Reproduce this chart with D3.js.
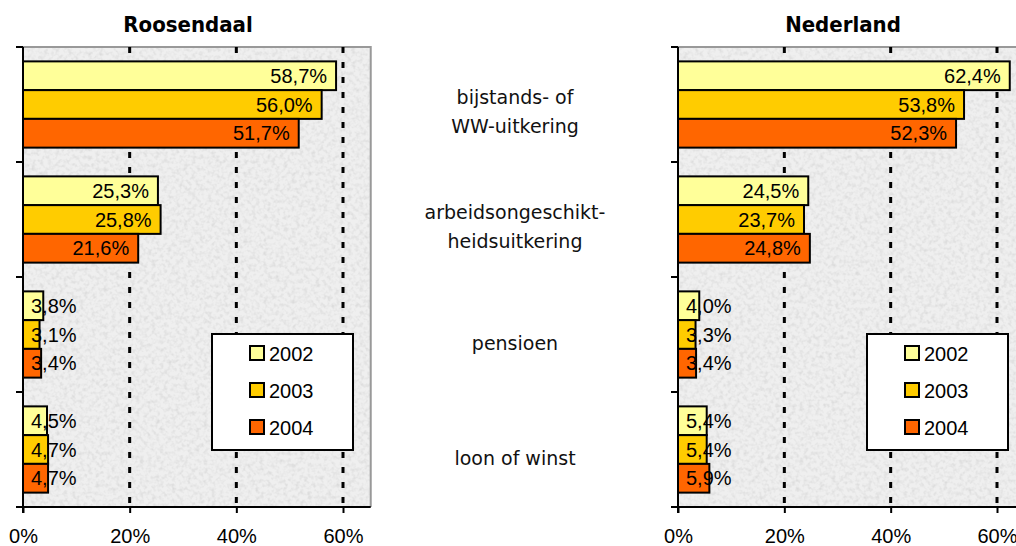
<!DOCTYPE html>
<html>
<head>
<meta charset="utf-8">
<script src="https://cdn.jsdelivr.net/npm/d3@7"></script>
<style>
  body { margin: 0; background: #fff; }
  svg { display: block; }
</style>
</head>
<body>
<svg width="1016" height="546"></svg>
<script>
var categories = ["bijstands- of WW-uitkering", "arbeidsongeschikt-heidsuitkering", "pensioen", "loon of winst"];
var categoryLines = [["bijstands- of", "WW-uitkering"], ["arbeidsongeschikt-", "heidsuitkering"], ["pensioen"], ["loon of winst"]];
var years = ["2002", "2003", "2004"];
var yearColors = ["#ffff99", "#ffcc00", "#ff6600"];

var roosendaal2002 = [58.7, 25.3, 3.8, 4.5];
var roosendaal2003 = [56.0, 25.8, 3.1, 4.7];
var roosendaal2004 = [51.7, 21.6, 3.4, 4.7];

var nederland2002 = [62.4, 24.5, 4.0, 5.4];
var nederland2003 = [53.8, 23.7, 3.3, 5.4];
var nederland2004 = [52.3, 24.8, 3.4, 5.9];

var xTicks = [0, 20, 40, 60];

var svg = d3.select("svg"),
    plotTop = 47, plotBottom = 507;

// grainy grey background like the Excel "granite" fill
var defs = svg.append("defs");
var f = defs.append("filter").attr("id", "grain")
    .attr("x", 0).attr("y", 0).attr("width", "100%").attr("height", "100%");
f.append("feTurbulence").attr("type", "fractalNoise").attr("baseFrequency", "0.25")
    .attr("numOctaves", 3).attr("seed", 7);
f.append("feColorMatrix").attr("type", "matrix")
    .attr("values", "0 0 0 0 0.62  0 0 0 0 0.62  0 0 0 0 0.62  1.3 0 0 0 -0.55");

var pct = function(v) { return d3.format(".1f")(v).replace(".", ",") + "%"; };

var y = d3.scaleBand().domain(categories).range([plotTop, plotBottom]);
var yInner = d3.scaleBand().domain(years).range([0, y.bandwidth()]).paddingOuter(0.5);

function panel(title, series, left, x60, plotRight) {
  var x = d3.scaleLinear().domain([0, 60]).range([left, x60]);
  var right = Math.min(plotRight, x(65.2));
  var g = svg.append("g");

  g.append("rect").attr("x", left).attr("y", plotTop).attr("width", right - left).attr("height", plotBottom - plotTop)
      .attr("fill", "#efefef");
  g.append("rect").attr("x", left).attr("y", plotTop).attr("width", right - left).attr("height", plotBottom - plotTop)
      .attr("filter", "url(#grain)");

  g.append("path")
      .attr("d", "M" + left + "," + plotTop + "H" + right + "V" + plotBottom)
      .attr("fill", "none").attr("stroke", "#999").attr("stroke-width", 2);

  g.selectAll(".grid").data(xTicks.slice(1)).enter().append("line")
      .attr("x1", x).attr("x2", x).attr("y1", plotTop).attr("y2", plotBottom)
      .attr("stroke", "#000").attr("stroke-width", 3).attr("stroke-dasharray", "6,9");

  var rows = [];
  series.forEach(function(vals, i) {
    vals.forEach(function(v, j) { rows.push({cat: categories[j], year: years[i], color: yearColors[i], value: v}); });
  });

  g.selectAll(".bar").data(rows).enter().append("rect")
      .attr("x", left)
      .attr("y", function(d) { return y(d.cat) + yInner(d.year); })
      .attr("width", function(d) { return x(d.value) - left; })
      .attr("height", yInner.bandwidth())
      .attr("fill", function(d) { return d.color; })
      .attr("stroke", "#000").attr("stroke-width", 2);

  g.selectAll(".lbl").data(rows).enter().append("text")
      .attr("y", function(d) { return y(d.cat) + yInner(d.year) + yInner.bandwidth() / 2 + 7; })
      .attr("text-anchor", "end")
      .attr("font-family", "Liberation Sans, Arial, sans-serif").attr("font-size", 20).attr("fill", "#000")
      .text(function(d) { return pct(d.value); })
      .attr("x", function(d) {
        var w = this.getComputedTextLength();
        return Math.max(x(d.value) - 9, left + 8 + w);
      });

  // axes
  var xa = g.append("g").attr("transform", "translate(0," + plotBottom + ")")
      .call(d3.axisBottom(x).tickValues(xTicks).tickSize(6).tickPadding(12).tickFormat(function(d) { return d + "%"; }));
  xa.select(".domain").attr("d", "M" + left + ",0H" + right).attr("stroke-width", 2);
  xa.selectAll(".tick line").attr("stroke-width", 2);
  xa.selectAll(".tick text").attr("font-family", "Liberation Sans, Arial, sans-serif").attr("font-size", 20)
      .attr("fill", "#000").attr("dy", null).attr("y", 36);

  g.append("line").attr("x1", left).attr("x2", left).attr("y1", plotTop).attr("y2", plotBottom + 6)
      .attr("stroke", "#000").attr("stroke-width", 2);
  g.selectAll(".ytick").data(d3.range(categories.length + 1)).enter().append("line")
      .attr("x1", left - 7).attr("x2", left)
      .attr("y1", function(i) { return plotTop + i * y.step(); })
      .attr("y2", function(i) { return plotTop + i * y.step(); })
      .attr("stroke", "#000").attr("stroke-width", 2);

  // title
  g.append("text").attr("x", left + 165).attr("y", 32).attr("text-anchor", "middle")
      .attr("font-family", "DejaVu Sans Condensed, DejaVu Sans, sans-serif").attr("font-weight", "bold")
      .attr("font-size", 22).attr("fill", "#000").text(title);

  // legend
  var lx = left + 189, ly = 334;
  var lg = g.append("g").attr("transform", "translate(" + lx + "," + ly + ")");
  lg.append("rect").attr("width", 141).attr("height", 116).attr("fill", "#fff")
      .attr("stroke", "#000").attr("stroke-width", 2);
  years.forEach(function(yr, i) {
    lg.append("rect").attr("x", 38).attr("y", 12 + i * 37).attr("width", 14).attr("height", 14)
        .attr("fill", yearColors[i]).attr("stroke", "#000").attr("stroke-width", 2);
    lg.append("text").attr("x", 57).attr("y", 27 + i * 37)
        .attr("font-family", "Liberation Sans, Arial, sans-serif").attr("font-size", 20).attr("fill", "#000")
        .text(yr);
  });
}

panel("Roosendaal", [roosendaal2002, roosendaal2003, roosendaal2004], 23, 343, 371);
panel("Nederland", [nederland2002, nederland2003, nederland2004], 678, 997, 1030);

// shared category labels between the panels
categories.forEach(function(c, i) {
  var lines = categoryLines[i];
  var cy = y(c) + y.bandwidth() / 2 + 15 - (lines.length - 1) * 15.5;
  var t = svg.append("text").attr("text-anchor", "middle")
      .attr("font-family", "DejaVu Sans, sans-serif").attr("font-size", 19).attr("fill", "#111");
  lines.forEach(function(l, k) {
    t.append("tspan").attr("x", 515).attr("y", cy + k * 29).text(l);
  });
});
</script>
</body>
</html>
